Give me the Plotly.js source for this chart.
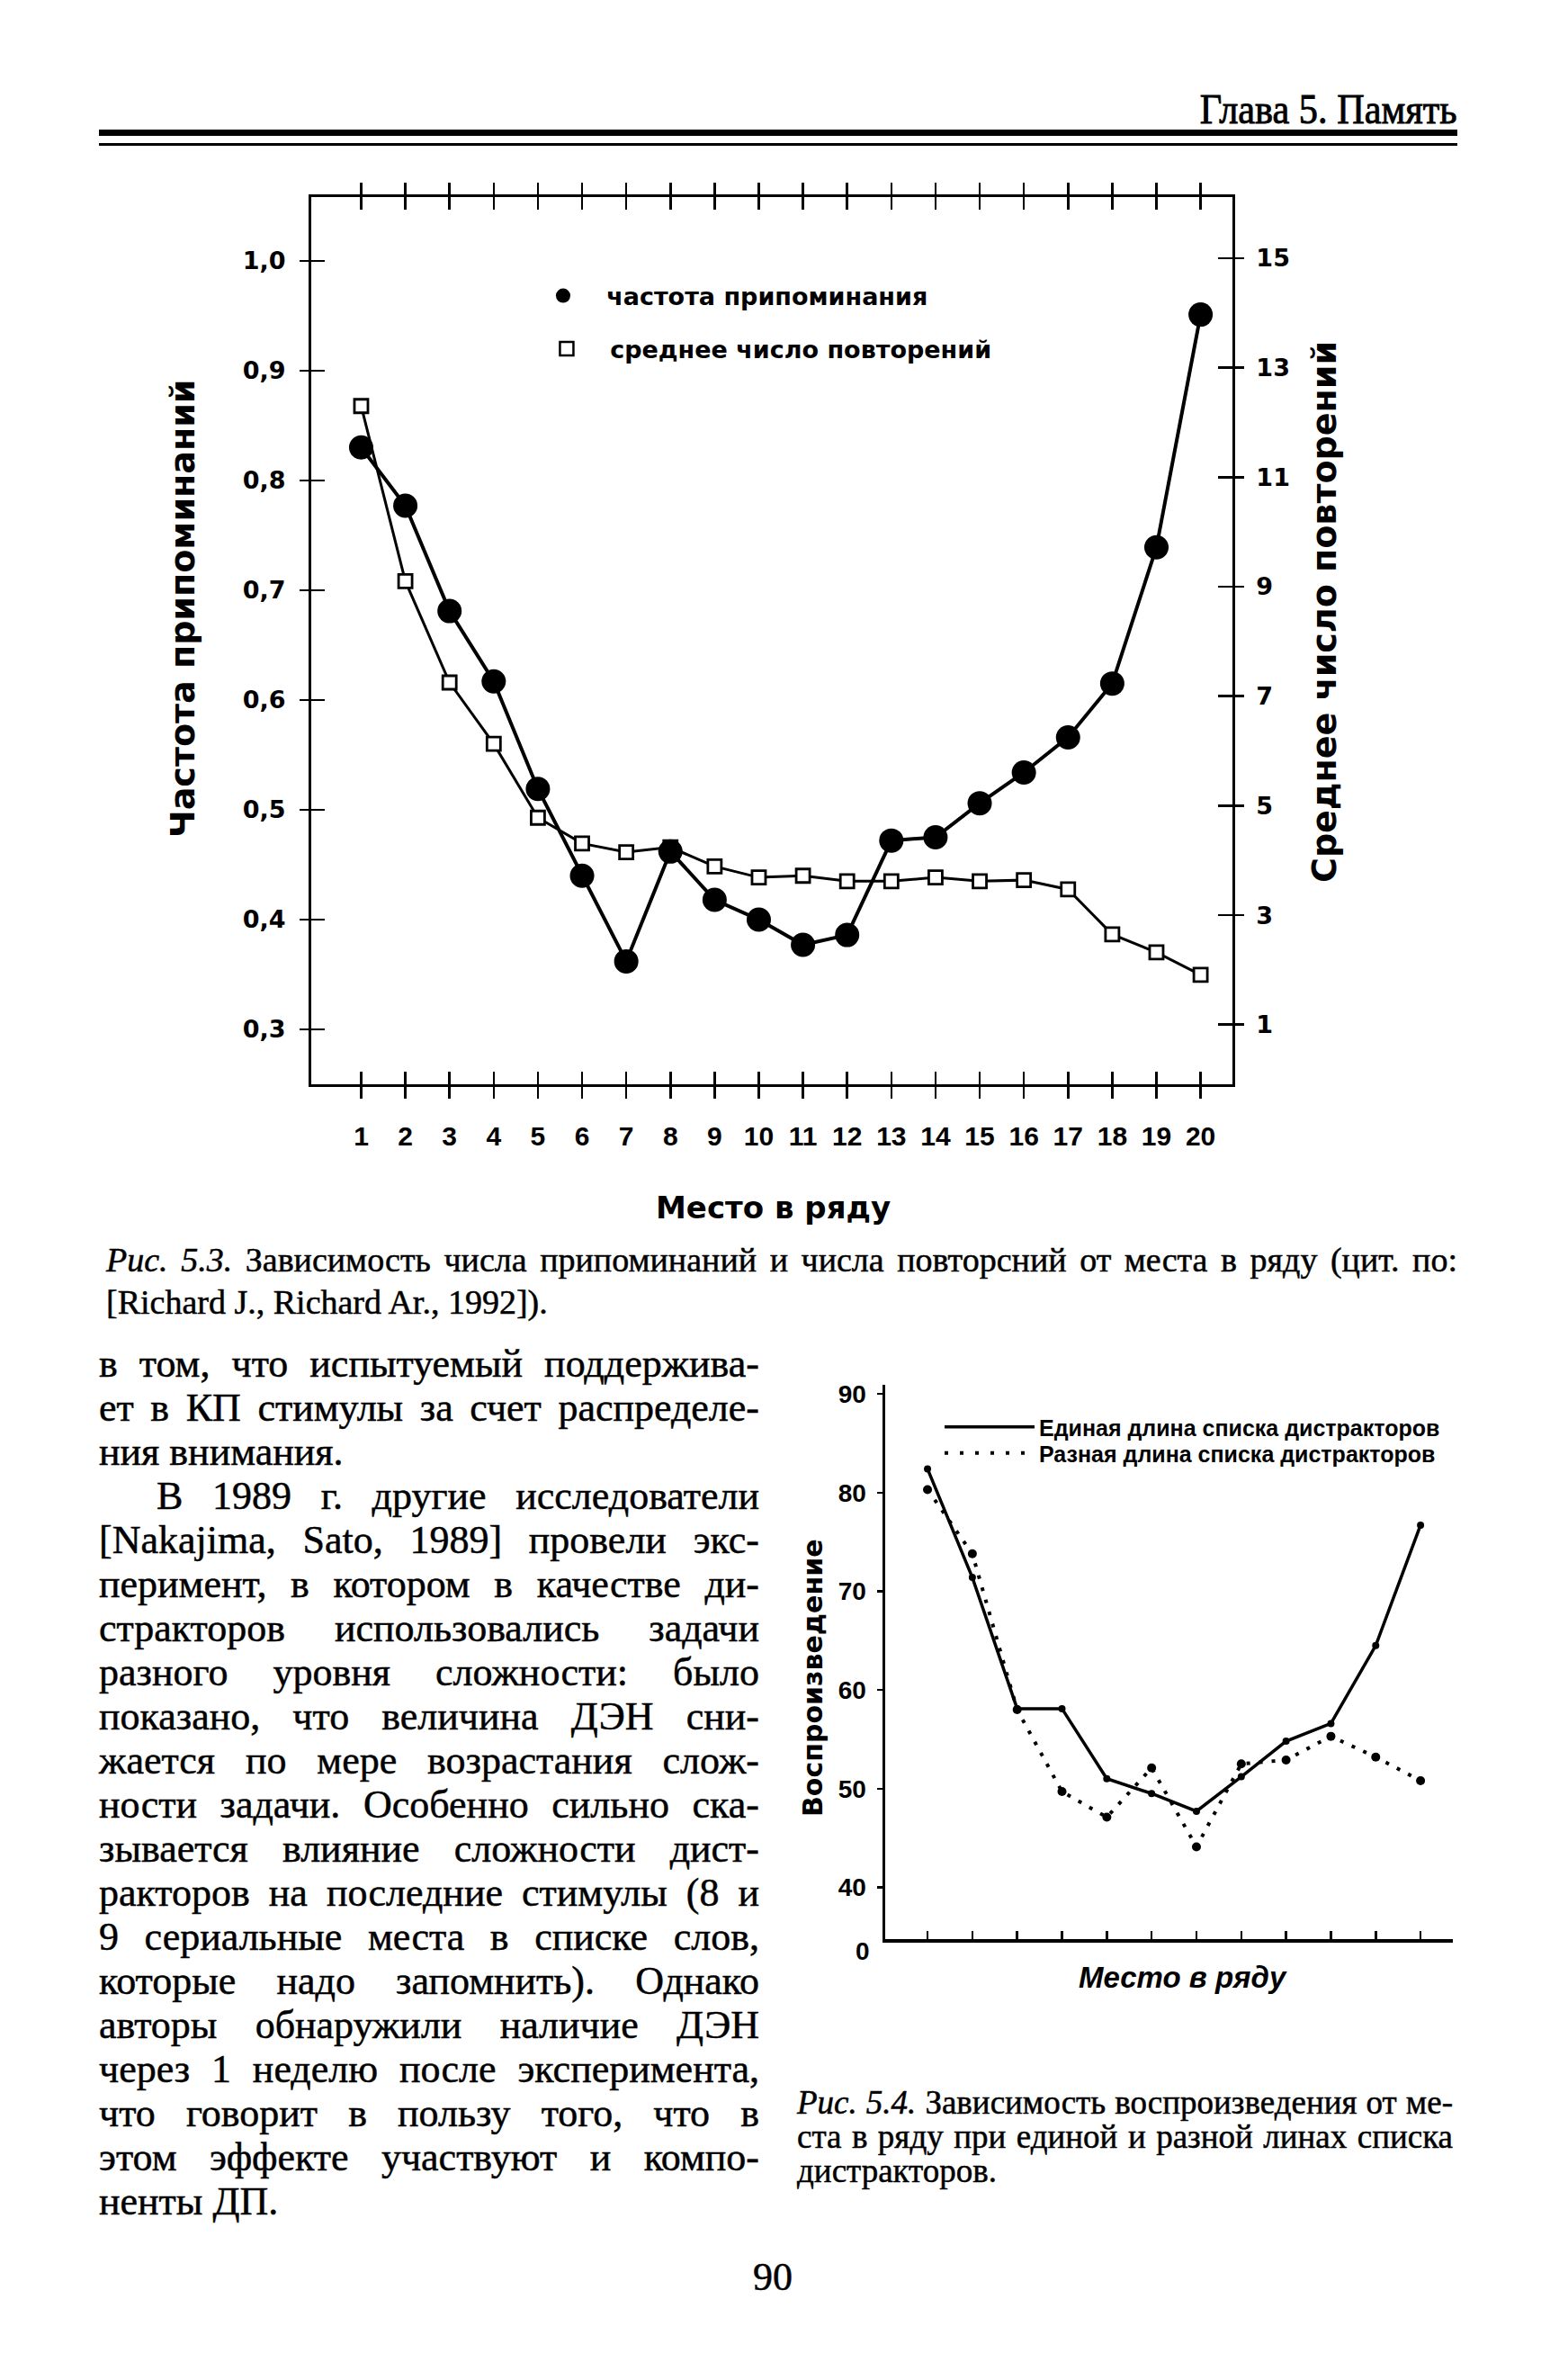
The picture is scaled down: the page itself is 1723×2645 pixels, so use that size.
<!DOCTYPE html>
<html>
<head>
<meta charset="utf-8">
<script src="https://cdn.plot.ly/plotly-3.0.1.min.js"></script>
<style>
  html, body { margin:0; padding:0; background:#fff; }
  #page { position:relative; width:1723px; height:2645px; overflow:hidden; background:#fff; }
  #plot { position:absolute; left:0; top:0; width:1723px; height:2645px; }
  .t { position:absolute; color:#000; white-space:nowrap; pointer-events:none; }
  .serif { font-family:"Liberation Serif", "DejaVu Serif", serif; -webkit-text-stroke:0.5px #000; }
  .jl { display:block; text-align:justify; text-align-last:justify; white-space:normal; }
  .ll { display:block; text-align:left; white-space:nowrap; }
  .rule { position:absolute; background:#000; }
</style>
</head>
<body>
<div id="page">
  <div id="plot"></div>

  <div class="t serif" style="right:103px; top:98px; font-size:46px; line-height:48px; -webkit-text-stroke:0.9px #000; transform:scaleX(0.92); transform-origin:right center;">Глава 5. Память</div>
  <div class="rule" style="left:110px; top:144px; width:1510px; height:7px;"></div>
  <div class="rule" style="left:110px; top:159px; width:1510px; height:3px;"></div>

  <div class="t serif" style="left:118px; top:1377px; width:1502px; font-size:38px; line-height:47px; white-space:normal;">
    <span class="jl"><i>Рис. 5.3.</i> Зависимость числа припоминаний и числа повторсний от места в ряду (цит. по:</span>
    <span class="ll">[Richard J., Richard Ar., 1992]).</span>
  </div>

  <div class="t serif" style="left:110px; top:1491px; width:734px; font-size:44px; line-height:49px; white-space:normal;">
    <span class="jl">в том, что испытуемый поддержива-</span>
    <span class="jl">ет в КП стимулы за счет распределе-</span>
    <span class="ll">ния внимания.</span>
    <span class="jl" style="padding-left:64px;">В 1989 г. другие исследователи</span>
    <span class="jl">[Nakajima, Sato, 1989] провели экс-</span>
    <span class="jl">перимент, в котором в качестве ди-</span>
    <span class="jl">стракторов использовались задачи</span>
    <span class="jl">разного уровня сложности: было</span>
    <span class="jl">показано, что величина ДЭН сни-</span>
    <span class="jl">жается по мере возрастания слож-</span>
    <span class="jl">ности задачи. Особенно сильно ска-</span>
    <span class="jl">зывается влияние сложности дист-</span>
    <span class="jl">ракторов на последние стимулы (8 и</span>
    <span class="jl">9 сериальные места в списке слов,</span>
    <span class="jl">которые надо запомнить). Однако</span>
    <span class="jl">авторы обнаружили наличие ДЭН</span>
    <span class="jl">через 1 неделю после эксперимента,</span>
    <span class="jl">что говорит в пользу того, что в</span>
    <span class="jl">этом эффекте участвуют и компо-</span>
    <span class="ll">ненты ДП.</span>
  </div>

  <div class="t serif" style="left:886px; top:2318px; width:729px; font-size:37px; line-height:38px; white-space:normal;">
    <span class="jl"><i>Рис. 5.4.</i> Зависимость воспроизведения от ме-</span>
    <span class="jl">ста в ряду при единой и разной линах списка</span>
    <span class="ll">дистракторов.</span>
  </div>

  <div class="t serif" style="left:809px; width:100px; text-align:center; top:2509px; font-size:44px; line-height:44px;">90</div>
</div>

<script>
// ---------- Figure 5.3 data ----------
const positions = [1, 2, 3, 4, 5, 6, 7, 8, 9, 10, 11, 12, 13, 14, 15, 16, 17, 18, 19, 20];
const recallRate = [0.830, 0.777, 0.681, 0.617, 0.519, 0.440, 0.362, 0.462, 0.418, 0.400,
                    0.377, 0.386, 0.472, 0.475, 0.506, 0.534, 0.566, 0.615, 0.739, 0.951];
const meanRehearsals = [12.3, 9.1, 7.25, 6.13, 4.78, 4.31, 4.15, 4.24, 3.89, 3.69,
                        3.72, 3.62, 3.62, 3.69, 3.62, 3.64, 3.47, 2.65, 2.32, 1.91];
const leftTicks = [0.3, 0.4, 0.5, 0.6, 0.7, 0.8, 0.9, 1.0];
const rightTicks = [1, 3, 5, 7, 9, 11, 13, 15];
const recallName = 'частота припоминания';
const rehearsalName = 'среднее число повторений';

// ---------- Figure 5.4 data ----------
const serialPlaces = [1, 2, 3, 4, 5, 6, 7, 8, 9, 10, 11, 12];
const uniformDistractors = [82.4, 71.4, 58.1, 58.1, 51.0, 49.5, 47.7, 51.2, 54.8, 56.6, 64.5, 76.7];
const variedDistractors  = [80.3, 73.8, 58.0, 49.7, 47.1, 52.1, 44.1, 52.5, 52.9, 55.3, 53.2, 50.8];
const reproTicks = [40, 50, 60, 70, 80, 90];
const uniformName = 'Единая длина списка дистракторов';
const variedName = 'Разная длина списка дистракторов';

const K = '#000';
const NB = '\u00a0\u00a0\u00a0';
const djb = (s) => ({family: 'DejaVu Sans', size: s, weight: 'bold', color: K});
const lsb = (s) => ({family: 'Liberation Sans', size: s, weight: 'bold', color: K});
const lsbi = (s) => ({family: 'Liberation Sans', size: s, weight: 'bold', style: 'italic', color: K});

const X1 = [-0.13, 20.72];
const YR = [-0.09, 16.117];
const YL = [0.250, 1.058];

const traces = [
  // squares (right axis)
  {x: positions, y: meanRehearsals, xaxis: 'x', yaxis: 'y', type: 'scatter', mode: 'lines+markers',
   line: {color: K, width: 3}, cliponaxis: false,
   marker: {symbol: 'square', size: 15, color: '#fff', line: {color: K, width: 2.8}}, showlegend: false, hoverinfo: 'skip'},
  // circles (left axis)
  {x: positions, y: recallRate, xaxis: 'x', yaxis: 'y2', type: 'scatter', mode: 'lines+markers',
   line: {color: K, width: 4}, cliponaxis: false,
   marker: {symbol: 'circle', size: 27, color: K}, showlegend: false, hoverinfo: 'skip'},
  // legend entries
  {x: [null], y: [null], xaxis: 'x', yaxis: 'y2', type: 'scatter', mode: 'markers', name: NB + recallName,
   marker: {symbol: 'circle', size: 27, color: K}, legend: 'legend', showlegend: true, hoverinfo: 'skip'},
  {x: [null], y: [null], xaxis: 'x', yaxis: 'y', type: 'scatter', mode: 'markers', name: NB + rehearsalName,
   marker: {symbol: 'square', size: 15, color: '#fff', line: {color: K, width: 2.5}}, legend: 'legend2', showlegend: true, hoverinfo: 'skip'},
  // carriers for crossing tick axes
  {x: [], y: [], xaxis: 'x2', yaxis: 'y', type: 'scatter', showlegend: false, hoverinfo: 'skip'},
  {x: [], y: [], xaxis: 'x', yaxis: 'y3', type: 'scatter', showlegend: false, hoverinfo: 'skip'},
  {x: [], y: [], xaxis: 'x', yaxis: 'y4', type: 'scatter', showlegend: false, hoverinfo: 'skip'},

  // Figure 5.4
  {x: serialPlaces, y: variedDistractors, xaxis: 'x3', yaxis: 'y5', type: 'scatter', mode: 'lines+markers',
   line: {color: K, width: 4, dash: '4px,10px'}, marker: {symbol: 'circle', size: 10, color: K},
   showlegend: false, hoverinfo: 'skip', cliponaxis: false},
  {x: serialPlaces, y: uniformDistractors, xaxis: 'x3', yaxis: 'y5', type: 'scatter', mode: 'lines+markers',
   line: {color: K, width: 3.5}, marker: {symbol: 'circle', size: 8, color: K},
   showlegend: false, hoverinfo: 'skip', cliponaxis: false},
  {x: [null], y: [null], xaxis: 'x3', yaxis: 'y5', type: 'scatter', mode: 'lines', name: uniformName,
   line: {color: K, width: 3.5}, legend: 'legend3', showlegend: true, hoverinfo: 'skip'},
  {x: [null], y: [null], xaxis: 'x3', yaxis: 'y5', type: 'scatter', mode: 'lines', name: variedName,
   line: {color: K, width: 4, dash: '4px,13px'}, legend: 'legend4', showlegend: true, hoverinfo: 'skip'}
];

const baseAxis = {showgrid: false, zeroline: false, fixedrange: true, color: K, linecolor: K, tickcolor: K};

const layout = {
  width: 1723, height: 2645,
  margin: {l: 0, r: 0, t: 0, b: 0, pad: 0},
  paper_bgcolor: '#fff', plot_bgcolor: 'rgba(0,0,0,0)',
  separators: ', ',
  showlegend: true,
  xaxis: Object.assign({}, baseAxis, {
    domain: [0.2008, 0.7951], anchor: 'y', range: X1,
    tickmode: 'array', tickvals: positions, ticktext: positions.map(String),
    ticks: 'outside', ticklen: 13, tickwidth: 2.5,
    showline: true, linewidth: 3, mirror: 'ticks',
    tickfont: lsb(30), ticklabelstandoff: 16
  }),
  xaxis2: Object.assign({}, baseAxis, {
    overlaying: 'x', anchor: 'y', range: X1,
    tickmode: 'array', tickvals: positions,
    ticks: 'inside', ticklen: 14, tickwidth: 2.5, mirror: 'ticks',
    showline: false, showticklabels: false
  }),
  yaxis: Object.assign({}, baseAxis, {
    domain: [0.5444, 0.9172], anchor: 'x', side: 'right', range: YR,
    tickmode: 'array', tickvals: rightTicks,
    ticks: 'outside', ticklen: 10, tickwidth: 2.5,
    showline: true, linewidth: 3, tickfont: djb(27), ticklabelstandoff: 8
  }),
  yaxis2: Object.assign({}, baseAxis, {
    overlaying: 'y', anchor: 'x', side: 'left', range: YL,
    tickmode: 'array', tickvals: leftTicks, tickformat: '.1f',
    ticks: 'outside', ticklen: 10, tickwidth: 2.5,
    showline: true, linewidth: 3, tickfont: djb(27), ticklabelstandoff: 10
  }),
  yaxis3: Object.assign({}, baseAxis, {
    overlaying: 'y', anchor: 'x', side: 'right', range: YR,
    tickmode: 'array', tickvals: rightTicks,
    ticks: 'inside', ticklen: 16, tickwidth: 2.5, showline: false, showticklabels: false
  }),
  yaxis4: Object.assign({}, baseAxis, {
    overlaying: 'y', anchor: 'x', side: 'left', range: YL,
    tickmode: 'array', tickvals: leftTicks,
    ticks: 'inside', ticklen: 15, tickwidth: 2.5, showline: false, showticklabels: false
  }),

  xaxis3: Object.assign({}, baseAxis, {
    domain: [0.5711, 0.9373], anchor: 'y5', range: [0.056, 12.72],
    tickmode: 'array', tickvals: serialPlaces,
    ticks: 'inside', ticklen: 9, tickwidth: 2.5,
    showline: true, linewidth: 4, showticklabels: false
  }),
  yaxis5: Object.assign({}, baseAxis, {
    domain: [0.1853, 0.4181], anchor: 'x3', range: [34.76, 90.91],
    tickmode: 'array', tickvals: reproTicks,
    ticks: 'outside', ticklen: 6, tickwidth: 2.5,
    showline: true, linewidth: 3.5, tickfont: lsb(28), ticklabelstandoff: 6
  }),

  legend: {x: 0.3517, y: 1 - 329 / 2645, xanchor: 'left', yanchor: 'middle', bgcolor: 'rgba(0,0,0,0)',
           borderwidth: 0, font: djb(27), itemclick: false, itemdoubleclick: false},
  legend2: {x: 0.354, y: 1 - 388 / 2645, xanchor: 'left', yanchor: 'middle', bgcolor: 'rgba(0,0,0,0)',
            borderwidth: 0, font: djb(27), itemclick: false, itemdoubleclick: false},
  legend3: {x: 1045 / 1723, y: 1 - 1586 / 2645, xanchor: 'left', yanchor: 'middle', bgcolor: 'rgba(0,0,0,0)',
            borderwidth: 0, font: lsb(25), itemwidth: 100, itemclick: false, itemdoubleclick: false},
  legend4: {x: 1045 / 1723, y: 1 - 1615 / 2645, xanchor: 'left', yanchor: 'middle', bgcolor: 'rgba(0,0,0,0)',
            borderwidth: 0, font: lsb(25), itemwidth: 100, itemclick: false, itemdoubleclick: false},

  annotations: [
    {text: 'Частота припоминаний', xref: 'paper', yref: 'paper', x: 203 / 1723, y: 1 - 677 / 2645,
     textangle: -90, showarrow: false, xanchor: 'center', yanchor: 'middle', font: djb(38)},
    {text: 'Среднее число повторений', xref: 'paper', yref: 'paper', x: 1472 / 1723, y: 1 - 680 / 2645,
     textangle: -90, showarrow: false, xanchor: 'center', yanchor: 'middle', font: djb(38)},
    {text: 'Место в ряду', xref: 'paper', yref: 'paper', x: 859 / 1723, y: 1 - 1342 / 2645,
     showarrow: false, xanchor: 'center', yanchor: 'middle', font: djb(34)},
    {text: 'Воспроизведение', xref: 'paper', yref: 'paper', x: 903 / 1723, y: 1 - 1865 / 2645,
     textangle: -90, showarrow: false, xanchor: 'center', yanchor: 'middle', font: djb(30)},
    {text: 'Место в ряду', xref: 'paper', yref: 'paper', x: 1315 / 1723, y: 1 - 2197 / 2645,
     showarrow: false, xanchor: 'center', yanchor: 'middle', font: lsbi(33)},
    {text: '0', xref: 'paper', yref: 'paper', x: 969 / 1723, y: 1 - 2168 / 2645,
     showarrow: false, xanchor: 'right', yanchor: 'middle', font: lsb(28)}
  ]
};

Plotly.newPlot('plot', traces, layout, {staticPlot: true, displayModeBar: false});
</script>
</body>
</html>
